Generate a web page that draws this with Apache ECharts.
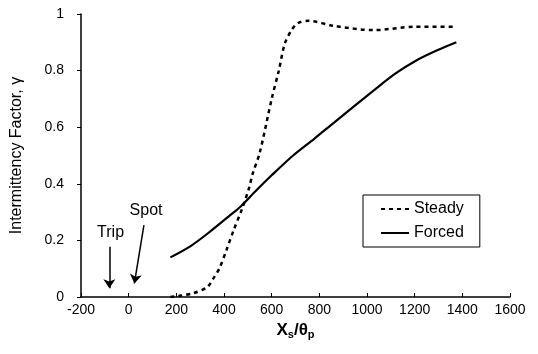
<!DOCTYPE html>
<html>
<head>
<meta charset="utf-8">
<script src="https://cdn.jsdelivr.net/npm/echarts@6/dist/echarts.min.js"></script>
<style>
  html, body { margin: 0; padding: 0; background: #fff; }
  #main { width: 538px; height: 354px; }
</style>
</head>
<body>
<div id="main"></div>
<script>
// steady flow intermittency [Xs/θp, γ]
var steadyData = [
  [175, 0], [220, 0.005], [270, 0.013], [330, 0.035], [355, 0.065],
  [380, 0.1], [410, 0.165], [440, 0.235], [475, 0.31], [505, 0.385],
  [520, 0.435], [550, 0.51], [600, 0.70], [630, 0.80], [655, 0.895],
  [685, 0.945], [710, 0.968], [755, 0.976], [860, 0.958], [1030, 0.943],
  [1200, 0.955], [1375, 0.955]
]
// forced flow intermittency
var forcedData = [
  [175, 0.14], [260, 0.18], [340, 0.23], [420, 0.285], [470, 0.32],
  [537, 0.378], [600, 0.43], [690, 0.50], [780, 0.56], [845, 0.605],
  [940, 0.67], [1034, 0.734], [1120, 0.79], [1205, 0.835], [1290, 0.87],
  [1375, 0.90]
]
// annotations (text position, arrow from -> to)
var noteLabels = [
  { name: 'Trip', value: [-76, 0.226] },
  { name: 'Spot', value: [73, 0.307] }
]
var noteArrows = [
  [[-81, 0.178], [-81, 0.031]],
  [[64, 0.254], [24, 0.048]]
]

var chart = echarts.init(document.getElementById('main'))
var font = 'Liberation Sans, Arial, sans-serif'

chart.setOption({
  animation: false,
  textStyle: { fontFamily: font, color: '#000' },
  grid: { left: 81, right: 28, top: 14, bottom: 57 },
  legend: {
    data: ['Steady', 'Forced'],
    orient: 'vertical',
    left: 363,
    top: 195,
    padding: [6, 16, 6, 17],
    itemGap: 8,
    itemWidth: 28,
    itemHeight: 14,
    borderColor: '#000',
    borderWidth: 1,
    itemStyle: { color: 'transparent', borderWidth: 0 },
    textStyle: { fontSize: 16, color: '#000', fontFamily: font }
  },
  xAxis: {
    type: 'value',
    min: -200,
    max: 1600,
    interval: 200,
    name: '{b|X}{s|s}{b|/θ}{s|p}',
    nameLocation: 'middle',
    nameGap: 24,
    nameTextStyle: {
      rich: {
        b: { fontSize: 17, fontWeight: 'bold', fontFamily: font, color: '#000' },
        s: { fontSize: 11, fontWeight: 'bold', fontFamily: font, color: '#000', padding: [8, 0, 0, 0] }
      }
    },
    axisLine: { lineStyle: { color: '#000', width: 1.5 } },
    axisTick: { inside: true, length: 4, lineStyle: { color: '#000' } },
    axisLabel: {
      fontSize: 14, color: '#000', margin: 6, fontFamily: font,
      formatter: function (v) { return String(v) }
    },
    splitLine: { show: false }
  },
  yAxis: {
    type: 'value',
    min: 0,
    max: 1,
    interval: 0.2,
    name: 'Intermittency Factor, γ',
    nameLocation: 'middle',
    nameGap: 56,
    nameTextStyle: { fontSize: 16, color: '#000', fontFamily: font },
    axisLine: { show: true, onZero: false, lineStyle: { color: '#000', width: 1.5 } },
    axisTick: { show: true, length: 4, lineStyle: { color: '#000' } },
    axisLabel: { fontSize: 14, color: '#000', margin: 17, fontFamily: font },
    splitLine: { show: false }
  },
  series: [
    {
      name: 'Steady',
      type: 'line',
      data: steadyData,
      smooth: 0.3,
      symbol: 'none',
      lineStyle: { color: '#000', width: 2.5, type: [4, 4] },
      itemStyle: { color: '#000' }
    },
    {
      name: 'Forced',
      type: 'line',
      data: forcedData,
      smooth: 0.3,
      symbol: 'none',
      lineStyle: { color: '#000', width: 2.2 },
      itemStyle: { color: '#000' }
    },
    {
      name: 'notes',
      type: 'scatter',
      data: noteLabels,
      symbolSize: 0,
      itemStyle: { opacity: 1 },
      label: {
        show: true,
        position: 'inside',
        formatter: '{b}',
        fontSize: 16,
        color: '#000',
        opacity: 1,
        fontFamily: font
      }
    },
    {
      name: 'arrows',
      type: 'lines',
      coordinateSystem: 'cartesian2d',
      data: noteArrows.map(function (c) { return { coords: c } }),
      symbol: ['none', 'arrow'],
      symbolSize: 9,
      lineStyle: { color: '#000', width: 1.5, opacity: 1 }
    }
  ]
})
</script>
</body>
</html>
